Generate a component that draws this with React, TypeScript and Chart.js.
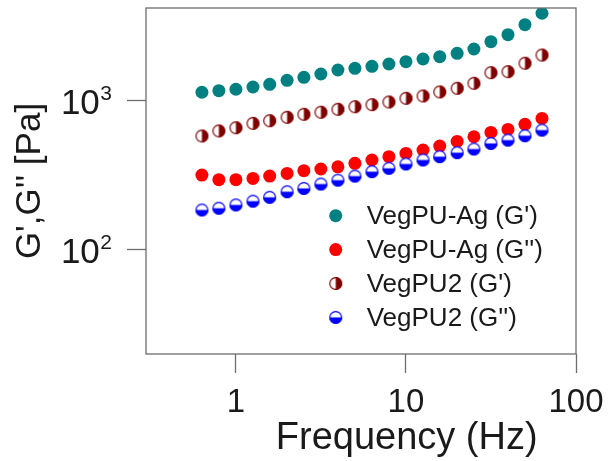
import React, { useEffect, useRef } from 'react';
import { Chart, registerables } from 'chart.js';

Chart.register(...registerables);

// ---- data ----
const frequencyHz = [0.631, 0.794, 1.0, 1.26, 1.58, 2.0, 2.51, 3.16, 3.98, 5.01, 6.31, 7.94, 10.0, 12.6, 15.8, 20.0, 25.1, 31.6, 39.8, 50.1, 63.1];
const vegPUAgStorage = [1139, 1167, 1193, 1236, 1289, 1371, 1436, 1512, 1608, 1651, 1703, 1765, 1829, 1906, 1977, 2083, 2227, 2495, 2780, 3245, 3872];
const vegPUAgLoss = [316, 294, 294, 300, 311, 324, 338, 347, 359, 379, 399, 420, 442, 466, 495, 532, 572, 612, 641, 693, 760];
const vegPU2Storage = [579, 626, 658, 704, 733, 773, 810, 836, 875, 911, 940, 980, 1038, 1076, 1145, 1212, 1309, 1543, 1567, 1786, 2028];
const vegPU2Loss = [184, 189, 199, 211, 224, 244, 257, 275, 292, 311, 333, 351, 375, 399, 420, 447, 473, 516, 543, 581, 634];

const seriesLabels = ["VegPU-Ag (G')", "VegPU-Ag (G'')", "VegPU2 (G')", "VegPU2 (G'')"];
const xTickValues = [1, 10, 100];
const yTickValues = [100, 1000];
const yTickBase = ['10', '10'];
const yTickExponent = ['2', '3'];
const xTitle = 'Frequency (Hz)';
const yTitle = "G',G'' [Pa]";

const FONT = '"Liberation Sans", Arial, sans-serif';
const AXIS_GREY = '#6e6e6e';
const TEXT = '#1a1a1a';

function halfMarker(color: string, filledSide: 'right' | 'bottom', r = 6.5): HTMLCanvasElement {
  const size = Math.ceil(2 * r + 2);
  const c = document.createElement('canvas');
  c.width = size;
  c.height = size;
  const ctx = c.getContext('2d')!;
  const cx = size / 2;
  const cy = size / 2;
  ctx.beginPath();
  ctx.arc(cx, cy, r - 0.5, 0, Math.PI * 2);
  ctx.fillStyle = '#ffffff';
  ctx.fill();
  ctx.beginPath();
  if (filledSide === 'right') {
    ctx.arc(cx, cy, r, -Math.PI / 2, Math.PI / 2);
  } else {
    ctx.arc(cx, cy, r, 0, Math.PI);
  }
  ctx.closePath();
  ctx.fillStyle = color;
  ctx.fill();
  ctx.beginPath();
  ctx.arc(cx, cy, r - 0.6, 0, Math.PI * 2);
  ctx.strokeStyle = color;
  ctx.lineWidth = 1.2;
  ctx.stroke();
  return c;
}

export default function App() {
  const ref = useRef<HTMLCanvasElement | null>(null);

  useEffect(() => {
    document.body.style.margin = '0';
    const canvas = ref.current!;
    const darkRedMarker = halfMarker('#800000', 'right');
    const blueMarker = halfMarker('#0000ff', 'bottom');

    const toPts = (ys: number[]) => frequencyHz.map((x, i) => ({ x, y: ys[i] }));

    const frameAndTextPlugin = {
      id: 'frameAndText',
      afterDatasetsDraw(chart: any) {
        const { ctx, chartArea } = chart;
        ctx.save();
        // frame
        ctx.strokeStyle = AXIS_GREY;
        ctx.lineWidth = 1.3;
        ctx.strokeRect(chartArea.left, chartArea.top, chartArea.right - chartArea.left, chartArea.bottom - chartArea.top);

        // y tick labels with superscript exponent
        const yScale = chart.scales.y;
        yTickValues.forEach((v, i) => {
          const py = yScale.getPixelForValue(v);
          const supRight = chartArea.left - 19 - 15;
          ctx.fillStyle = TEXT;
          ctx.textAlign = 'right';
          ctx.textBaseline = 'alphabetic';
          ctx.font = `21px ${FONT}`;
          const supW = ctx.measureText(yTickExponent[i]).width;
          ctx.fillText(yTickExponent[i], supRight, py - 0.5);
          ctx.font = `35px ${FONT}`;
          ctx.fillText(yTickBase[i], supRight - supW - 0.5, py + 13.5);
        });

        // legend
        const rowY0 = 215.7;
        const rowStep = 33.9;
        const markerX = 335.7;
        const textX = 366.7;
        chart.data.datasets.forEach((ds: any, i: number) => {
          const y = rowY0 + i * rowStep;
          const ps = ds.pointStyle;
          if (ps instanceof HTMLCanvasElement) {
            ctx.drawImage(ps, markerX - ps.width / 2, y - ps.height / 2);
          } else {
            ctx.beginPath();
            ctx.arc(markerX, y, 6.5, 0, Math.PI * 2);
            ctx.fillStyle = ds.backgroundColor;
            ctx.fill();
          }
          ctx.fillStyle = TEXT;
          ctx.font = `26px ${FONT}`;
          ctx.textAlign = 'left';
          ctx.textBaseline = 'middle';
          ctx.fillText(ds.label, textX, y + 1);
        });

        // x title
        ctx.fillStyle = TEXT;
        ctx.font = `38px ${FONT}`;
        ctx.textAlign = 'center';
        ctx.textBaseline = 'alphabetic';
        ctx.fillText(xTitle, 406.7, 448.5);

        // y title
        ctx.translate(30.5, (chartArea.top + chartArea.bottom) / 2);
        ctx.rotate(-Math.PI / 2);
        ctx.font = `35px ${FONT}`;
        ctx.textAlign = 'center';
        ctx.textBaseline = 'middle';
        ctx.fillText(yTitle, 0, 0);
        ctx.restore();
      },
    };

    const chart = new Chart(canvas, {
      type: 'scatter',
      data: {
        datasets: [
          { label: seriesLabels[0], data: toPts(vegPUAgStorage), pointStyle: 'circle', pointRadius: 6.5, backgroundColor: '#008080', borderWidth: 0, order: 3 },
          { label: seriesLabels[1], data: toPts(vegPUAgLoss), pointStyle: 'circle', pointRadius: 6.5, backgroundColor: '#ff0000', borderWidth: 0, order: 2 },
          { label: seriesLabels[2], data: toPts(vegPU2Storage), pointStyle: darkRedMarker as any, backgroundColor: '#800000', borderWidth: 0, order: 1 },
          { label: seriesLabels[3], data: toPts(vegPU2Loss), pointStyle: blueMarker as any, backgroundColor: '#0000ff', borderWidth: 0, order: 0 },
        ] as any,
      },
      options: {
        animation: false,
        responsive: true,
        maintainAspectRatio: false,
        layout: { padding: { top: 8, right: 32, left: 0, bottom: 0 } },
        plugins: {
          legend: { display: false },
          tooltip: { enabled: false },
        },
        scales: {
          x: {
            type: 'logarithmic',
            min: 0.296,
            max: 100,
            bounds: 'data',
            afterBuildTicks: (scale: any) => {
              scale.ticks = xTickValues.map((v) => ({ value: v }));
            },
            afterFit: (scale: any) => {
              scale.height = 107;
              scale.paddingLeft = 0;
              scale.paddingRight = 0;
            },
            ticks: {
              autoSkip: false,
              maxRotation: 0,
              padding: 10.5,
              color: TEXT,
              font: { family: FONT, size: 33 },
              callback: (v: any) => String(v),
            },
            grid: { drawOnChartArea: false, drawTicks: true, tickLength: 19, tickColor: AXIS_GREY, tickWidth: 1.3 },
            border: { display: false },
          },
          y: {
            type: 'logarithmic',
            min: 19.77,
            max: 4201,
            bounds: 'data',
            afterBuildTicks: (scale: any) => {
              scale.ticks = yTickValues.map((v) => ({ value: v }));
            },
            afterFit: (scale: any) => {
              scale.width = 146;
              scale.paddingTop = 0;
              scale.paddingBottom = 0;
            },
            ticks: {
              display: false,
            },
            grid: { drawOnChartArea: false, drawTicks: true, tickLength: 19, tickColor: AXIS_GREY, tickWidth: 1.3 },
            border: { display: false },
          },
        },
      } as any,
      plugins: [frameAndTextPlugin],
    });

    return () => chart.destroy();
  }, []);

  return (
    <div style={{ position: 'fixed', left: 0, top: 0, width: 608, height: 461, background: '#ffffff' }}>
      <canvas ref={ref} />
    </div>
  );
}
